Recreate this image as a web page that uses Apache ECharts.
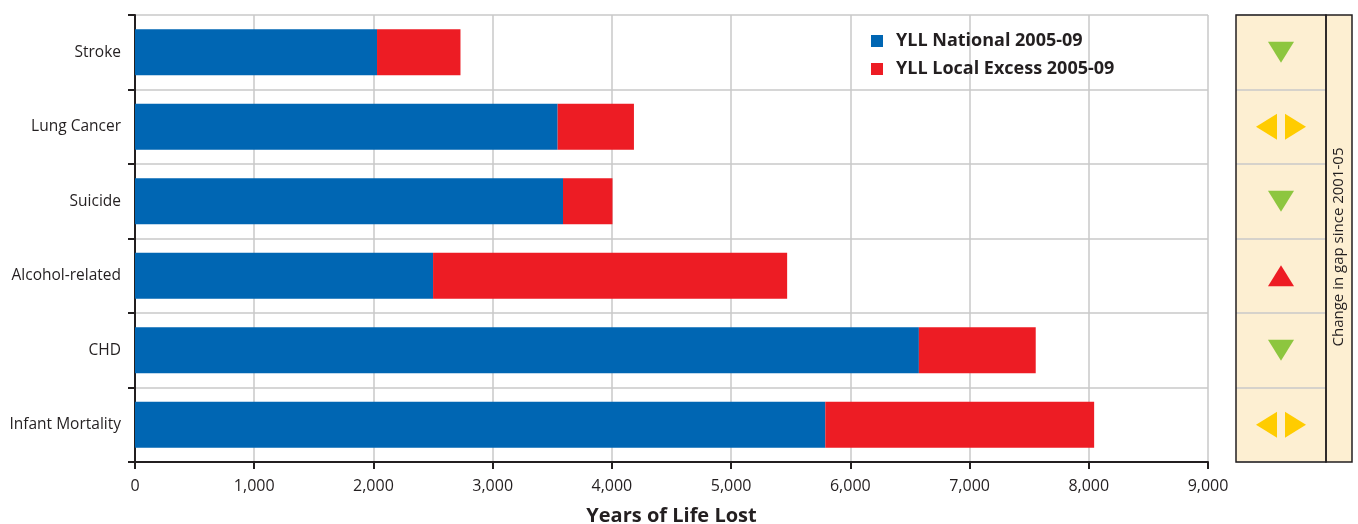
<!DOCTYPE html>
<html>
<head>
<meta charset="utf-8">
<script src="https://cdn.jsdelivr.net/npm/echarts@6/dist/echarts.min.js"></script>
<style>
  html, body { margin: 0; padding: 0; background: #fff; }
  #chart { width: 1358px; height: 524px; }
</style>
</head>
<body>
<div id="chart"></div>
<script>
// Causes of premature death, top to bottom
const categories = ['Stroke', 'Lung Cancer', 'Suicide', 'Alcohol-related', 'CHD', 'Infant Mortality'];
// Years of life lost, national rate applied locally
const yllNational = [2030, 3545, 3590, 2500, 6575, 5790];
// Extra years lost locally above the national level
const yllLocalExcess = [700, 640, 415, 2970, 980, 2255];
// Direction of the gap since 2001-05: 'down', 'up' or 'same'
const gapTrend = ['down', 'same', 'down', 'up', 'down', 'same'];
const xTicks = [0, 1000, 2000, 3000, 4000, 5000, 6000, 7000, 8000, 9000];

const FONT = '"Open Sans", "Noto Sans", sans-serif';
const INK = '#231f20';
const GRID_GREY = '#c8c8c8';
const CREAM = '#fdefd2';

// layout
const W = 1358, H = 524;
const plot = { left: 135, right: 1208, top: 15, bottom: 462 };
const panel = { left: 1236, mid: 1326, right: 1352 };

// trend markers for the side panel
const markerData = [];
gapTrend.forEach(function (t, i) {
  const cat = categories[i];
  if (t === 'down') {
    markerData.push({ value: [0.5, cat], symbolRotate: 180, itemStyle: { color: '#8dc63f', opacity: 1 } });
  } else if (t === 'up') {
    markerData.push({ value: [0.5, cat], symbolRotate: 0, itemStyle: { color: '#ed1c24', opacity: 1 } });
  } else {
    markerData.push({ value: [0.5, cat], symbolRotate: 90, symbolOffset: [-14.5, 0], itemStyle: { color: '#ffcc00', opacity: 1 } });
    markerData.push({ value: [0.5, cat], symbolRotate: -90, symbolOffset: [14.5, 0], itemStyle: { color: '#ffcc00', opacity: 1 } });
  }
});

const chart = echarts.init(document.getElementById('chart'), null, { renderer: 'canvas' });

chart.setOption({
  animation: false,
  backgroundColor: '#ffffff',
  textStyle: { fontFamily: FONT, color: INK },
  legend: {
    orient: 'vertical',
    left: 871,
    top: 32,
    padding: 0,
    itemWidth: 12,
    itemHeight: 12,
    itemGap: 10,
    icon: 'rect',
    selectedMode: false,
    data: ['YLL National 2005-09', 'YLL Local Excess 2005-09'],
    textStyle: { fontFamily: FONT, fontSize: 18, fontWeight: 'bold', color: INK, padding: [0, 0, 0, 8], lineHeight: 18 }
  },
  grid: [
    { left: plot.left, right: W - plot.right, top: plot.top, bottom: H - plot.bottom,
      containLabel: false, outerBoundsMode: 'none' },
    { left: panel.left, right: W - panel.mid, top: plot.top, bottom: H - plot.bottom,
      containLabel: false, outerBoundsMode: 'none',
      show: true, backgroundColor: CREAM, borderWidth: 0 }
  ],
  xAxis: [
    {
      gridIndex: 0,
      type: 'value',
      min: xTicks[0],
      max: xTicks[xTicks.length - 1],
      interval: xTicks[1] - xTicks[0],
      name: 'Years of Life Lost',
      nameLocation: 'middle',
      nameGap: 44,
      nameTextStyle: { fontFamily: FONT, fontSize: 20, fontWeight: 'bold', color: INK },
      axisLine: { show: true, onZero: false, lineStyle: { color: INK, width: 2 } },
      axisTick: { show: true, length: 7, lineStyle: { color: INK, width: 2 } },
      axisLabel: {
        fontFamily: FONT, fontSize: 16, color: INK, margin: 16,
        formatter: function (v) { return v.toLocaleString('en-US'); }
      },
      splitLine: { show: true, lineStyle: { color: GRID_GREY, width: 1.5 } }
    },
    { gridIndex: 1, type: 'value', min: 0, max: 1, show: false }
  ],
  yAxis: [
    {
      gridIndex: 0,
      type: 'category',
      inverse: true,
      data: categories,
      axisLine: { show: true, lineStyle: { color: INK, width: 2 } },
      axisTick: { show: true, length: 7, lineStyle: { color: INK, width: 2 } },
      axisLabel: { fontFamily: FONT, fontSize: 15.5, color: INK, margin: 14 },
      splitLine: { show: true, lineStyle: { color: GRID_GREY, width: 1.5 } }
    },
    {
      gridIndex: 1,
      type: 'category',
      inverse: true,
      data: categories,
      axisLine: { show: false },
      axisTick: { show: false },
      axisLabel: { show: false },
      splitLine: { show: true, lineStyle: { color: GRID_GREY, width: 1.5 } }
    }
  ],
  series: [
    {
      name: 'YLL National 2005-09',
      type: 'bar',
      stack: 'yll',
      xAxisIndex: 0, yAxisIndex: 0,
      barWidth: 46,
      itemStyle: { color: '#0066b3' },
      data: yllNational
    },
    {
      name: 'YLL Local Excess 2005-09',
      type: 'bar',
      stack: 'yll',
      xAxisIndex: 0, yAxisIndex: 0,
      barWidth: 46,
      itemStyle: { color: '#ed1c24' },
      data: yllLocalExcess
    },
    {
      name: 'gap trend',
      type: 'scatter',
      xAxisIndex: 1, yAxisIndex: 1,
      symbol: 'triangle',
      symbolSize: [26, 21],
      silent: true,
      data: markerData
    }
  ],
  graphic: [
    // caption strip beside the trend markers
    {
      type: 'rect', z: 10,
      shape: { x: panel.mid, y: plot.top, width: panel.right - panel.mid, height: plot.bottom - plot.top },
      style: { fill: CREAM, stroke: INK, lineWidth: 1.5 }
    },
    // frame round the marker column
    {
      type: 'rect', z: 10,
      shape: { x: panel.left, y: plot.top, width: panel.mid - panel.left, height: plot.bottom - plot.top },
      style: { fill: 'none', stroke: INK, lineWidth: 1.5 }
    },
    {
      type: 'text', z: 11,
      x: (panel.mid + panel.right) / 2,
      y: 247,
      rotation: Math.PI / 2,
      style: {
        text: 'Change in gap since 2001-05',
        fontFamily: FONT, fontSize: 15, fill: INK,
        align: 'center', verticalAlign: 'middle'
      }
    }
  ]
});
</script>
</body>
</html>
